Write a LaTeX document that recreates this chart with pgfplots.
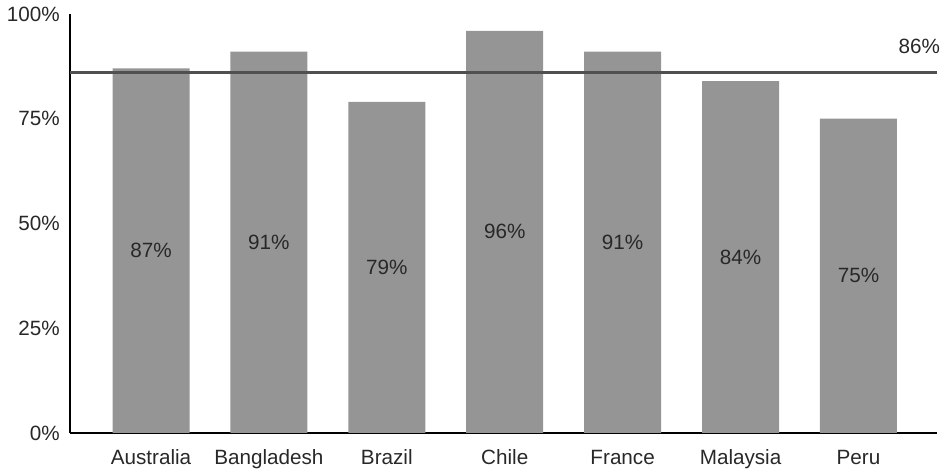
\documentclass[border=0pt]{standalone}
\usepackage{fontspec}
\setmainfont{Liberation Sans}
\usepackage{pgfplots}
\pgfplotsset{compat=1.18}
\usepackage{pgfplotstable}

\definecolor{barc}{RGB}{149,149,149}
\definecolor{linec}{RGB}{80,80,80}
\definecolor{txt}{RGB}{40,40,40}

% 1 px of the reference = 0.75pt
\pgfplotstableread{
x name val
0 Australia 87
1 Bangladesh 91
2 Brazil 79
3 Chile 96
4 France 91
5 Malaysia 84
6 Peru 75
}\datatable
\pgfplotstablecreatecol[expr={\thisrow{val}/2}]{half}\datatable

\begin{document}
\begin{tikzpicture}[x=1pt,y=1pt]
\useasboundingbox (0,0) rectangle (707.25,354.75);
\begin{axis}[
	at={(52.5pt,30pt)}, anchor=south west,
	scale only axis,
	width=650.25pt, height=314.25pt,
	xmin=-0.687, xmax=6.666,
	ymin=0, ymax=100,
	axis x line*=bottom,
	axis y line*=left,
	axis line style={black, line width=0.9pt, -},
	major tick length=0pt,
	/pgf/number format/assume math mode=true,
	xtick=data,
	xticklabels from table={\datatable}{name},
	ytick={0,25,...,100},
	yticklabel={\pgfmathprintnumber{\tick}\%},
	tick label style={font=\fontsize{15.5}{17}\selectfont, text=txt},
	xticklabel style={inner sep=0pt, anchor=base, yshift=-24pt, font=\fontsize{15.5}{17}\selectfont},
	yticklabel style={inner sep=0pt, anchor=east, xshift=-7.5pt},
	clip=false,
]
\addplot[ybar, bar width=57.75pt, fill=barc, draw=none] table[x=x, y=val] {\datatable};
\addplot[draw=none, mark=none,
	nodes near coords={\pgfmathprintnumber{\pgfplotspointmeta}\%},
	point meta=explicit,
	every node near coord/.append style={anchor=center, font=\fontsize{15.5}{17}\selectfont, text=txt},
] table[x=x, y=half, meta=val] {\datatable};
\addplot[linec, line width=2.25pt, mark=none] coordinates {(-0.687,86) (6.666,86)};
\node[anchor=south east, inner sep=0pt, font=\fontsize{15.5}{17}\selectfont, text=txt]
	at (axis cs:6.666,86) [xshift=2.5pt, yshift=14pt] {86\%};
\end{axis}
\end{tikzpicture}
\end{document}
